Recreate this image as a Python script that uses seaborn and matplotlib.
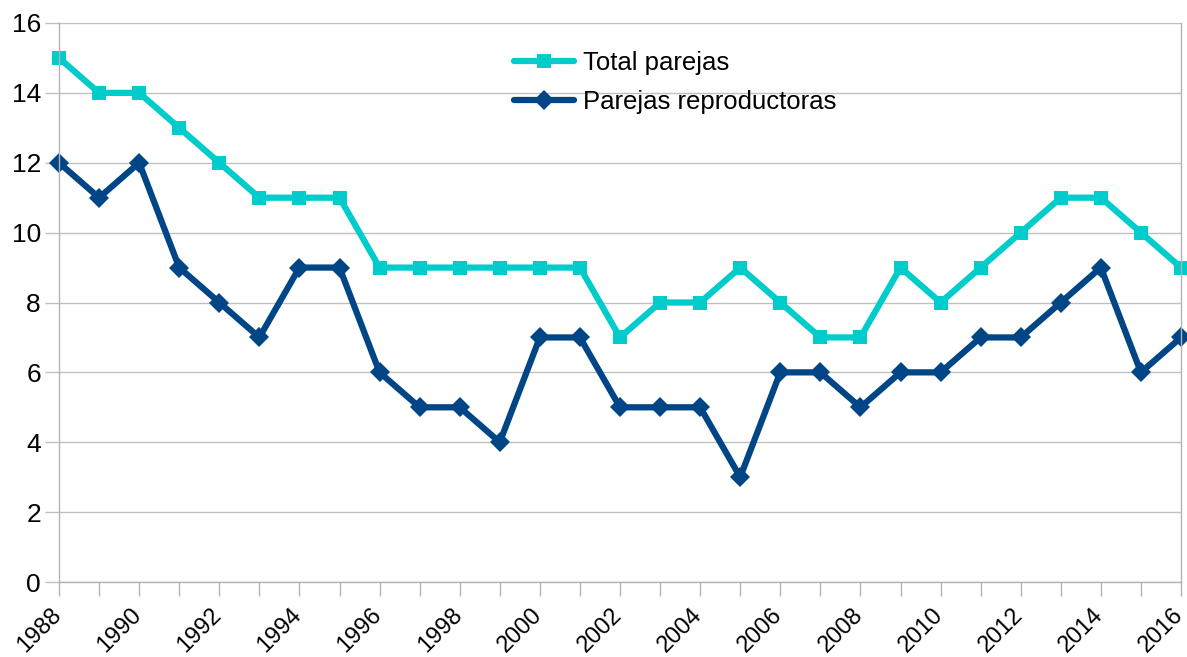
import matplotlib
matplotlib.use("Agg")
import matplotlib.pyplot as plt
import matplotlib.transforms as mtransforms
import seaborn as sns
import pandas as pd
from matplotlib.ticker import MultipleLocator
from matplotlib.lines import Line2D

years = list(range(1988, 2017))
total_parejas = [15, 14, 14, 13, 12, 11, 11, 11, 9, 9, 9, 9, 9, 9, 7, 8, 8, 9, 8, 7, 7, 9, 8, 9, 10, 11, 11, 10, 9]
parejas_reproductoras = [12, 11, 12, 9, 8, 7, 9, 9, 6, 5, 5, 4, 7, 7, 5, 5, 5, 3, 6, 6, 5, 6, 6, 7, 7, 8, 9, 6, 7]
series_names = ["Total parejas", "Parejas reproductoras"]
colors = ["#00CCCC", "#004586"]
markers = ["s", "D"]
marker_sizes = [10, 10.5]

sns.set_theme(style="white")
plt.rcParams["font.family"] = ["Liberation Sans", "DejaVu Sans"]

df = pd.DataFrame({
    "year": years * 2,
    "value": total_parejas + parejas_reproductoras,
    "serie": [series_names[0]] * len(years) + [series_names[1]] * len(years),
})

fig = plt.figure(figsize=(11.87, 6.57), dpi=100)
ax = fig.add_axes([59 / 1187, 1 - 582 / 657, (1181 - 59) / 1187, (582 - 23) / 657])

sns.lineplot(data=df, x="year", y="value", hue="serie", style="serie",
             palette=dict(zip(series_names, colors)),
             markers=dict(zip(series_names, markers)),
             dashes=False, linewidth=4.5, markersize=10,
             markeredgewidth=0, ax=ax, legend=False)
for line, ms in zip(ax.lines, marker_sizes):
    line.set_markersize(ms)
    line.set_clip_on(False)

ax.set_xlim(1988, 2016)
ax.set_ylim(0, 16)
ax.yaxis.set_major_locator(MultipleLocator(2))
ax.xaxis.set_major_locator(MultipleLocator(2))
ax.xaxis.set_minor_locator(MultipleLocator(1))
ax.set_xlabel("")
ax.set_ylabel("")
ax.grid(axis="y", color="#c0c0c0", linewidth=1)
ax.set_axisbelow(True)

for side in ["left", "right", "bottom"]:
    ax.spines[side].set_visible(True)
    ax.spines[side].set_color("#b3b3b3")
    ax.spines[side].set_linewidth(1)
ax.spines["top"].set_visible(False)

ax.tick_params(axis="y", which="major", direction="out", length=10, width=1,
               color="#c0c0c0", labelsize=19, left=True, pad=3, labelcolor="black")
ax.tick_params(axis="x", which="both", direction="out", length=10, width=1,
               color="#b3b3b3", bottom=True, labelsize=17, labelcolor="black", pad=11.5)
offset = mtransforms.ScaledTranslation(-1 / 100, 0, fig.dpi_scale_trans)
for lab in ax.get_xticklabels():
    lab.set_rotation(45)
    lab.set_ha("right")
    lab.set_va("center")
    lab.set_rotation_mode("anchor")
    lab.set_transform(lab.get_transform() + offset)

handles = [Line2D([], [], color=c, marker=m, linewidth=4.5, markersize=ms, markeredgewidth=0)
           for c, m, ms in zip(colors, markers, marker_sizes)]
leg = fig.legend(handles, series_names, loc="upper left", bbox_to_anchor=(514 / 1187, 1 - 51 / 657),
                 frameon=False, fontsize=18.5, handlelength=2.35, handletextpad=0.35, labelspacing=0.57,
                 borderpad=0, borderaxespad=0)
for t in leg.get_texts():
    t.set_color("black")

fig.savefig("out.png", dpi=100)
